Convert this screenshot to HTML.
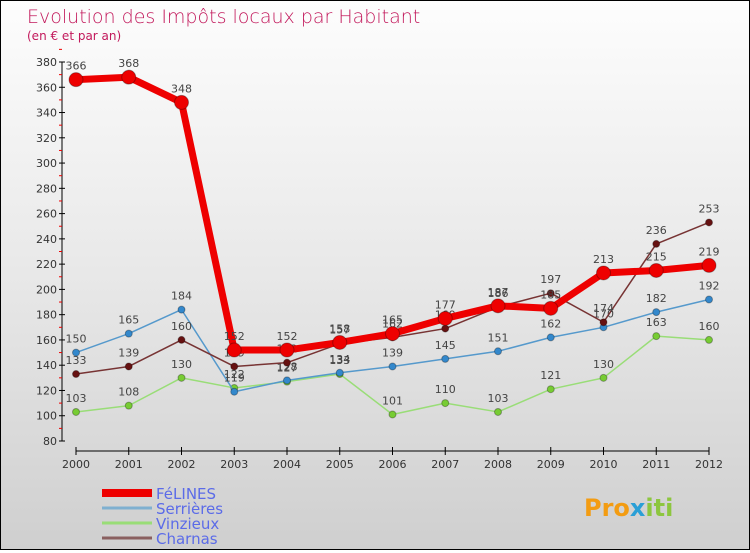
<!DOCTYPE html>
<html><head><meta charset="utf-8"><style>
body{margin:0;width:750px;height:550px;overflow:hidden;font-family:"DejaVu Sans","Liberation Sans",sans-serif;}
#wrap{position:relative;width:748px;height:548px;border:1px solid #000;background:linear-gradient(#fdfdfd,#e8e8e8 50%,#cfcfcf);}
svg text{font-family:"DejaVu Sans","Liberation Sans",sans-serif;}
</style></head><body>
<div id="wrap">
<svg id="chart" width="748" height="548">
<text x="26" y="22" font-size="19" fill="#c2185b" font-weight="200">Evolution des Impôts locaux par Habitant</text>
<text x="26" y="39" font-size="12" fill="#c2185b">(en € et par an)</text>
<g id="axes"></g><g id="series"></g><g id="legend"></g>
<text x="583" y="515" font-size="24" font-weight="bold" fill="#f39c12">Pro<tspan fill="#2a9fd6">x</tspan><tspan fill="#8dc63f">iti</tspan></text>
</svg></div>
<script>
const years=[2000,2001,2002,2003,2004,2005,2006,2007,2008,2009,2010,2011,2012];
const felines=[366,368,348,152,152,158,165,177,187,185,213,215,219];
const serrieres=[150,165,184,119,128,134,139,145,151,162,170,182,192];
const vinzieux=[103,108,130,122,127,133,101,110,103,121,130,163,160];
const charnas=[133,139,160,139,142,157,162,169,186,197,174,236,253];
const yTicks=[80,100,120,140,160,180,200,220,240,260,280,300,320,340,360,380];
const NS="http://www.w3.org/2000/svg";
const x=i=>75+i*52.75;
const y=v=>440-(v-80)*(379/300);
function mk(t,a,p){const e=document.createElementNS(NS,t);for(const k in a)e.setAttribute(k,a[k]);p.appendChild(e);return e;}
const ax=document.getElementById('axes');
const yl=mk('line',{x1:61,y1:y(380),x2:61,y2:440,stroke:'#000'},ax);


yTicks.forEach(v=>{
 mk('line',{x1:58,x2:64,y1:y(v),y2:y(v),stroke:'#000'},ax);
 mk('line',{x1:58,x2:61,y1:y(v+10),y2:y(v+10),stroke:'#e00'},ax);
 const t=mk('text',{x:56,y:y(v)+4,'font-size':11,'text-anchor':'end',fill:'#333'},ax);t.textContent=v;
 
 
});
const xl=mk('line',{x1:75,x2:708,y1:450,y2:450,stroke:'#000'},ax);


years.forEach((yr,i)=>{
 mk('line',{x1:x(i),x2:x(i),y1:446,y2:454,stroke:'#000'},ax);
 const t=mk('text',{x:x(i),y:467,'font-size':11,'text-anchor':'middle',fill:'#333'},ax);t.textContent=yr;
 
 
});
const sg=document.getElementById('series');
function series(data,color,w,r,dot,name){
 const g=mk('g',{},sg);
 
 
 mk('polyline',{points:data.map((v,i)=>x(i)+','+y(v)).join(' '),fill:'none',stroke:color,'stroke-width':w,'stroke-linejoin':'round'},g);
 data.forEach((v,i)=>{
  const c=mk('circle',{cx:x(i),cy:y(v),r:r,fill:dot,stroke:'rgba(0,0,0,0.3)'},g);
  
  
  const t=mk('text',{x:x(i),y:y(v)-10,'font-size':11,'text-anchor':'middle',fill:'#444'},g);t.textContent=v;
  
  
 });
}
series(vinzieux,'#99dd77',1.5,3.5,'#77cc33','vinzieux');
series(serrieres,'#5599cc',1.5,3.5,'#3388cc','serrieres');
series(charnas,'#773333',1.5,3.5,'#661111','charnas');
series(felines,'#ee0000',7,7,'#ee0000','felines');
const lg=document.getElementById('legend');
[['FéLINES','#ee0000',8,'legend-felines'],['Serrières','#7fb0d0',3,'legend-serrieres'],['Vinzieux','#99dd77',3,'legend-vinzieux'],['Charnas','#8a6060',3,'legend-charnas']].forEach((d,i)=>{
 const yy=492+i*15;
 const l=mk('line',{x1:101,x2:151,y1:yy,y2:yy,stroke:d[1],'stroke-width':d[2]},lg);
 
 
 const t=mk('text',{x:155,y:yy+6,'font-size':15,fill:'#5b6be8'},lg);t.textContent=d[0];
 
 
});
</script>
</body></html>
